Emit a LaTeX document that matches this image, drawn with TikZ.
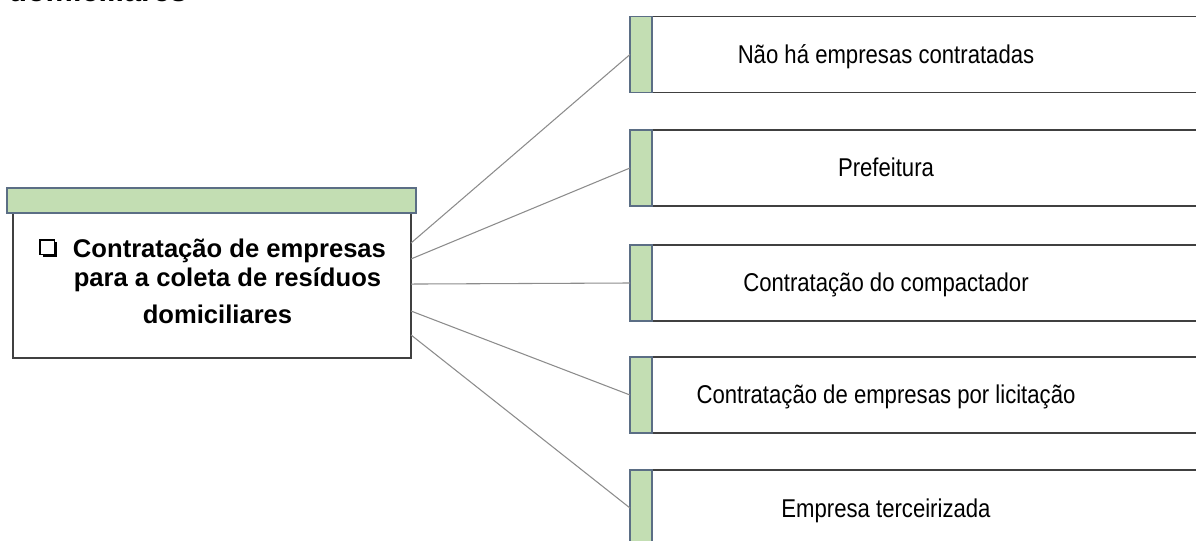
\documentclass[tikz,border=0pt]{standalone}
\usepackage{fontspec}
\setmainfont{Liberation Sans}
\newfontfamily\narrowsans[FakeStretch=0.86]{Liberation Sans}
\usetikzlibrary{calc}
\definecolor{barfill}{HTML}{C3DEB3}
\definecolor{barline}{HTML}{5B6E85}
\definecolor{linkgray}{HTML}{8C8C8C}
\definecolor{boxline}{HTML}{404040}
\begin{document}
\begin{tikzpicture}[x=0.75pt,y=-0.75pt,
  greenbar/.style={draw=barline, fill=barfill, line width=0.9pt, inner sep=0pt, outer sep=0pt},
  leftbar/.style={greenbar, minimum width=306.75pt, minimum height=18.75pt},
  mainbox/.style={draw=boxline, fill=white, line width=0.9pt, inner sep=0pt, outer sep=0pt, minimum width=298.5pt, minimum height=108.75pt},
  sidebar/.style={greenbar, minimum width=16.5pt, minimum height=57pt},
  itembox/.style={draw=boxline, fill=white, line width=0.9pt, inner sep=0pt, outer sep=0pt, minimum width=433.5pt, minimum height=57pt},
  maintext/.style={anchor=base, inner sep=0pt, font=\bfseries\fontsize{19.2}{23}\selectfont},
  itemtext/.style={anchor=base, inner sep=0pt, font=\narrowsans\fontsize{19.3}{23}\selectfont},
  link/.style={draw=linkgray, line width=0.8pt}
]
\useasboundingbox (0,0) rectangle (1196,541);
\clip (0,0) rectangle (1196,541);

% partial caption text at the top edge
\node[anchor=base west, inner sep=0pt, font=\bfseries\fontsize{23}{27}\selectfont] (cap) at (8,1.2) {domiciliares};

% main box
\node[mainbox] (main) at (212,285.5) {};
\node[leftbar] (mainbar) at (211.5,200.5) {};

% bullet
\fill[black] (42.5,242.5) rectangle (57,257);
\draw[black, fill=white, line width=0.8pt] (40,240) rectangle (54.5,254.5);

\node[maintext] (t1) at (229.5,258) {Contratação de empresas};
\node[maintext] (t2) at (227.5,287) {para a coleta de resíduos};
\node[maintext] (t3) at (217.5,324) {domiciliares};

% right boxes
\foreach \i/\cy/\txt in {1/54.5/Não há empresas contratadas,
                         2/168/Prefeitura,
                         3/283/Contratação do compactador,
                         4/395/Contratação de empresas por licitação,
                         5/508/Empresa terceirizada}{
  \node[itembox] (b\i) at (941,\cy) {};
  \node[sidebar] (g\i) at (641,\cy) {};
  \node[itemtext] (l\i) at (886,\cy+9) {\txt};
}

% connectors
\draw[link] ($(main.north east)!0.207!(main.south east)$) -- (g1.west);
\draw[link] ($(main.north east)!0.317!(main.south east)$) -- (g2.west);
\draw[link] ($(main.north east)!0.490!(main.south east)$) -- (g3.west);
\draw[link] ($(main.north east)!0.676!(main.south east)$) -- (g4.west);
\draw[link] ($(main.north east)!0.841!(main.south east)$) -- (g5.west);
\end{tikzpicture}
\end{document}
